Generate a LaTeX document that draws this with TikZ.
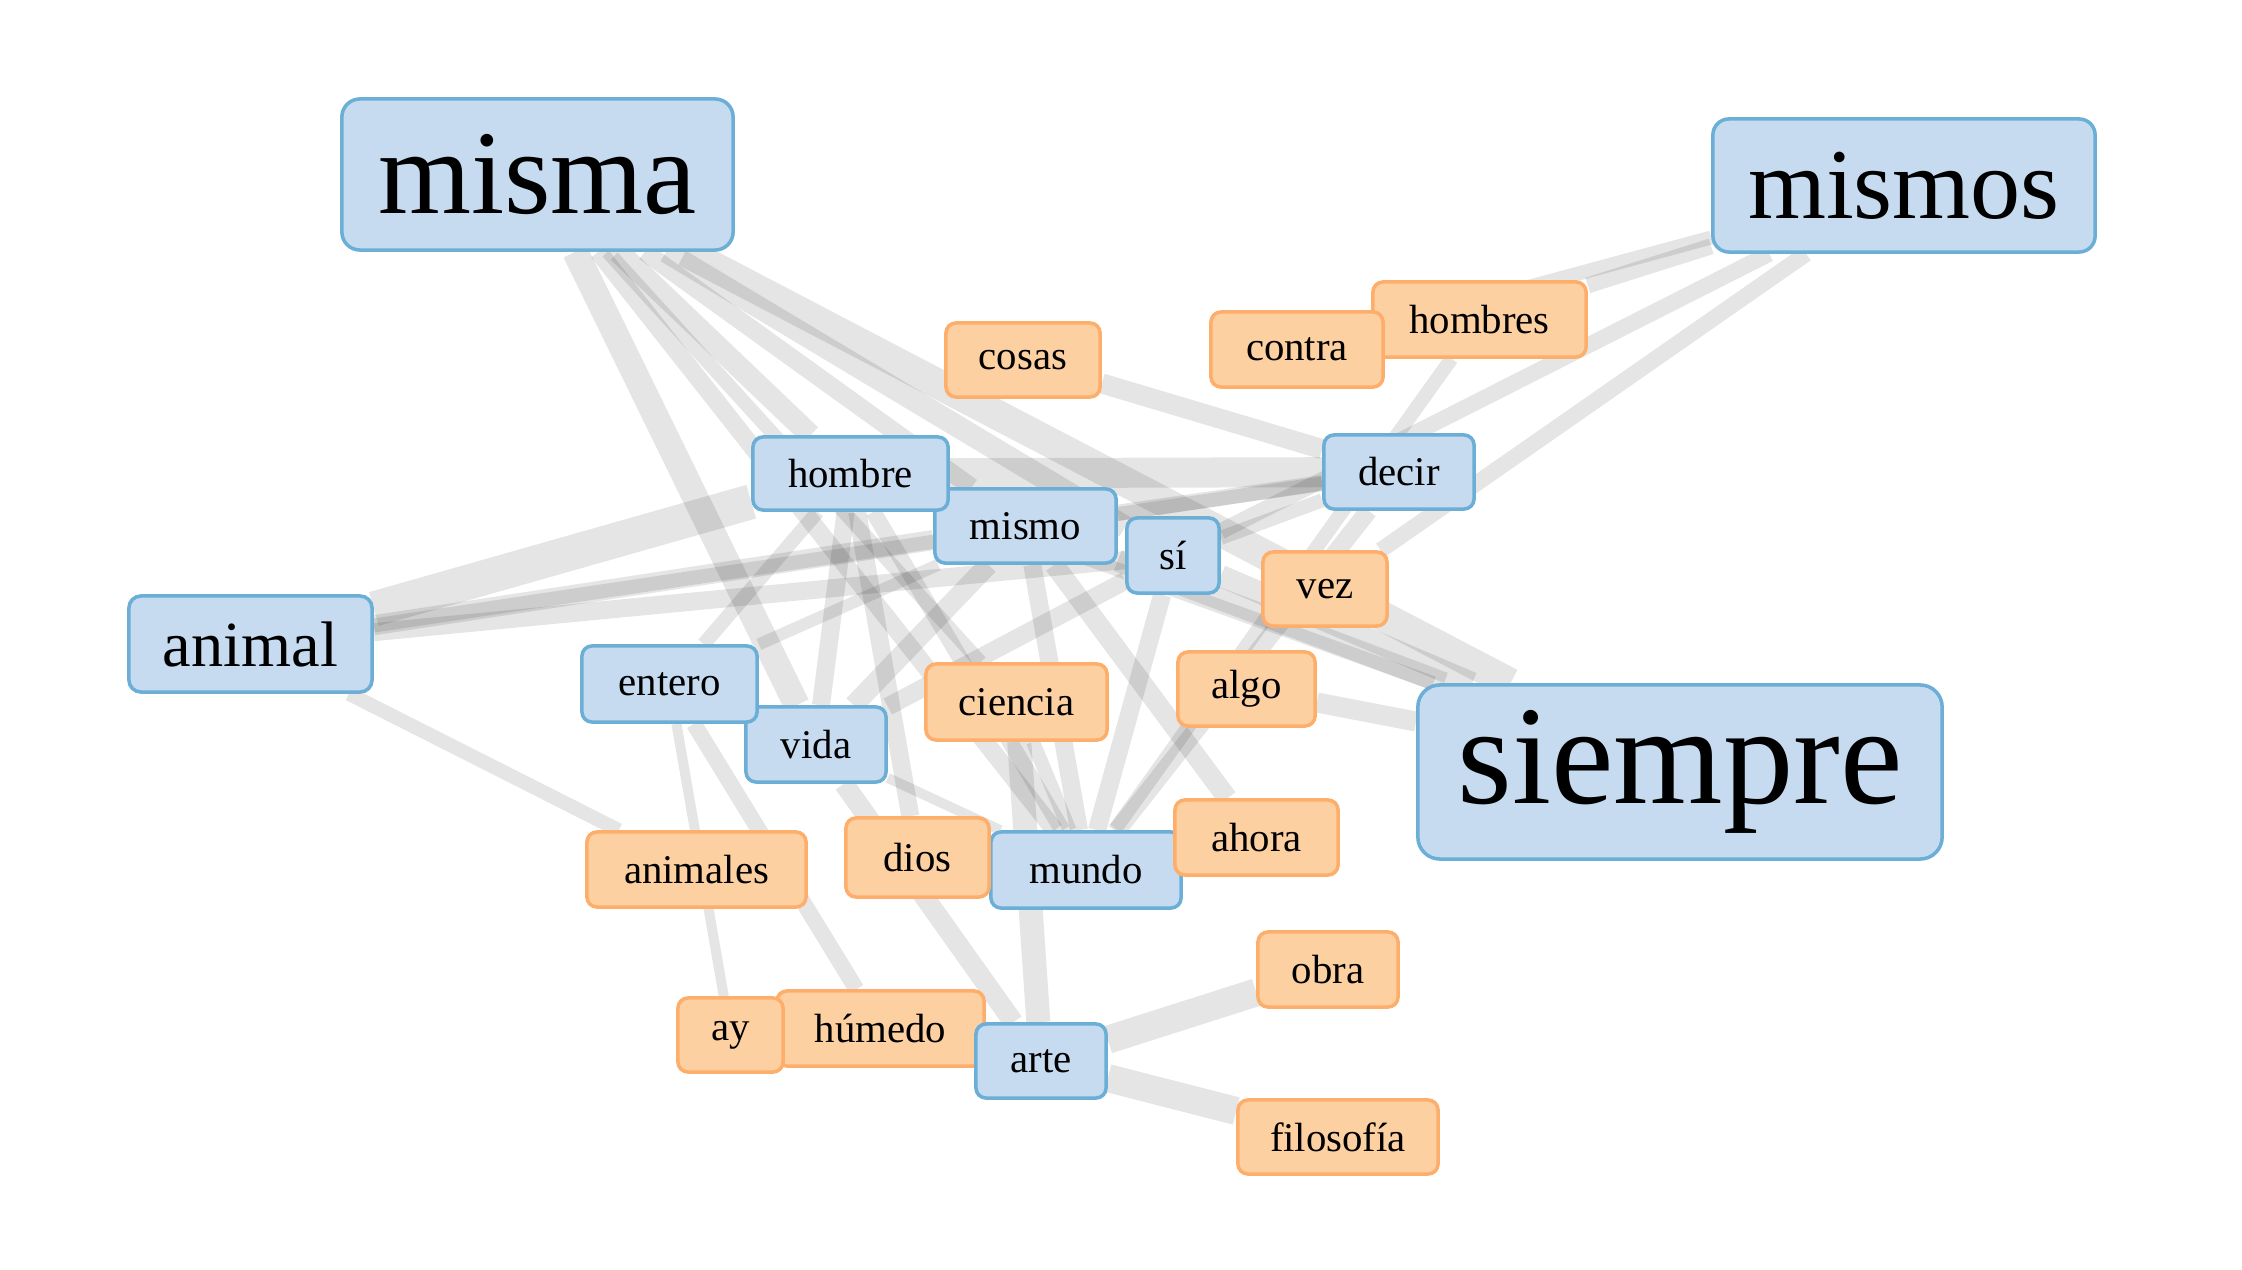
\documentclass[tikz,border=0pt]{standalone}
\usepackage{fontspec}
\setmainfont{Liberation Serif}
\usetikzlibrary{backgrounds}

\definecolor{bluefill}{HTML}{C6DBEF}
\definecolor{blueline}{HTML}{6BAED6}
\definecolor{orangefill}{HTML}{FDD0A2}
\definecolor{orangeline}{HTML}{FDAE6B}

\tikzset{
  word/.style={rectangle, inner sep=0pt, line width=1pt, rounded corners=0.1cm,
    font=\fontsize{11.6}{13}\selectfont},
  bword/.style={word, draw=blueline, fill=bluefill},
  oword/.style={word, draw=orangeline, fill=orangefill},
  link/.style={draw=black, draw opacity=0.1, line width=#1*0.2845pt},
}

\begin{document}
\begin{tikzpicture}[x=0.01cm, y=-0.01cm]
  \useasboundingbox (0,0) rectangle (2242,1270);

  % big words
  \node[bword, minimum width=3.91cm, minimum height=1.51cm, rounded corners=0.18cm,
    font=\fontsize{34}{40}\selectfont] (misma) at (537.5,174.5) {misma};
  \node[bword, minimum width=3.82cm, minimum height=1.33cm, rounded corners=0.16cm,
    font=\fontsize{28.5}{34}\selectfont] (mismos) at (1904,185.5) {mismos};
  \node[bword, minimum width=5.24cm, minimum height=1.74cm, rounded corners=0.22cm,
    font=\fontsize{40}{46}\selectfont] (siempre) at (1680,772) {siempre};
  \node[bword, minimum width=2.43cm, minimum height=0.96cm, rounded corners=0.12cm,
    font=\fontsize{18.3}{22}\selectfont] (animal) at (250.5,644) {animal};

  % blue words
  \node[bword, minimum width=1.81cm, minimum height=0.74cm] (mismo) at (1025.5,526) {mismo};
  \node[bword, minimum width=1.95cm, minimum height=0.73cm] (hombre) at (850.5,473.5) {hombre};
  \node[bword, minimum width=0.92cm, minimum height=0.75cm] (si) at (1173,555.5) {sí};
  \node[bword, minimum width=1.50cm, minimum height=0.74cm] (decir) at (1399,472) {decir};
  \node[bword, minimum width=1.40cm, minimum height=0.75cm] (vida) at (816,744.5) {vida};
  \node[bword, minimum width=1.75cm, minimum height=0.76cm] (entero) at (669.5,684) {entero};
  \node[bword, minimum width=1.90cm, minimum height=0.76cm] (mundo) at (1086,870) {mundo};

  % orange words
  \node[oword, minimum width=1.54cm, minimum height=0.74cm] (cosas) at (1023,360) {cosas};
  \node[oword, minimum width=2.13cm, minimum height=0.75cm] (hombres) at (1479.5,319.5) {hombres};
  \node[oword, minimum width=1.72cm, minimum height=0.75cm] (contra) at (1297,349.5) {contra};
  \node[oword, minimum width=1.24cm, minimum height=0.74cm] (vez) at (1325,589) {vez};
  \node[oword, minimum width=1.37cm, minimum height=0.74cm] (algo) at (1246.5,689) {algo};
  \node[oword, minimum width=1.81cm, minimum height=0.76cm] (ciencia) at (1016.5,702) {ciencia};
  \node[oword, minimum width=1.43cm, minimum height=0.79cm] (dios) at (917.5,857.5) {dios};
  \node[oword, minimum width=1.63cm, minimum height=0.75cm] (ahora) at (1256.5,837.5) {ahora};
  \node[oword, minimum width=2.19cm, minimum height=0.75cm] (animales) at (696.5,869.5) {animales};
  \node[oword, minimum width=1.40cm, minimum height=0.75cm] (obra) at (1328,969.5) {obra};
  \node[oword, minimum width=2.07cm, minimum height=0.75cm] (humedo) at (880.5,1028.5) {húmedo};
  \node[oword, minimum width=1.05cm, minimum height=0.74cm] (ay) at (730.5,1035) {ay};
  \node[bword, minimum width=1.30cm, minimum height=0.74cm] (arte) at (1041,1061) {arte};
  \node[oword, minimum width=2.00cm, minimum height=0.74cm] (filosofia) at (1338,1137) {filosofía};

  \begin{scope}[on background layer]
    \fill[white] (0,0) rectangle (2242,1270);
    % misma
    \draw[link=26] (misma) -- (vida);
    \draw[link=22] (misma) -- (hombre);
    \draw[link=18] (misma) -- (mismo);
    \draw[link=22] (misma) -- (si);
    \draw[link=30] (misma) -- (siempre);
    \draw[link=18] (misma) -- (mundo);
    \draw[link=14] (misma) -- (ciencia);
    % mismos
    \draw[link=14] (mismos) -- (contra);
    \draw[link=16] (mismos) -- (hombres);
    \draw[link=16] (mismos) -- (si);
    \draw[link=16] (mismos) -- (vez);
    % animal
    \draw[link=35] (animal) -- (hombre);
    \draw[link=20] (animal) -- (mismo);
    \draw[link=18] (animal) -- (si);
    \draw[link=14] (animal) -- (decir);
    \draw[link=14] (animal) -- (animales);
    % hombre
    \draw[link=30] (hombre) -- (decir);
    \draw[link=14] (hombre) -- (entero);
    \draw[link=18] (hombre) -- (vida);
    \draw[link=18] (hombre) -- (dios);
    \draw[link=16] (hombre) -- (mundo);
    \draw[link=14] (hombre) -- (siempre);
    % mismo
    \draw[link=16] (mismo) -- (decir);
    \draw[link=12] (mismo) -- (entero);
    \draw[link=20] (mismo) -- (vida);
    \draw[link=18] (mismo) -- (mundo);
    \draw[link=20] (mismo) -- (ahora);
    \draw[link=22] (mismo) -- (siempre);
    % si, decir
    \draw[link=22] (si) -- (siempre);
    \draw[link=18] (si) -- (mundo);
    \draw[link=14] (si) -- (decir);
    \draw[link=18] (si) -- (vida);
    \draw[link=20] (decir) -- (cosas);
    \draw[link=18] (decir) -- (mundo);
    \draw[link=14] (hombres) -- (mundo);
    % lower part
    \draw[link=10] (entero) -- (ay);
    \draw[link=16] (entero) -- (humedo);
    \draw[link=20] (vida) -- (arte);
    \draw[link=10] (vida) -- (mundo);
    \draw[link=14] (ciencia) -- (mundo);
    \draw[link=24] (ciencia) -- (arte);
    \draw[link=20] (algo) -- (siempre);
    \draw[link=28] (arte) -- (obra);
    \draw[link=28] (arte) -- (filosofia);
  \end{scope}
\end{tikzpicture}
\end{document}
